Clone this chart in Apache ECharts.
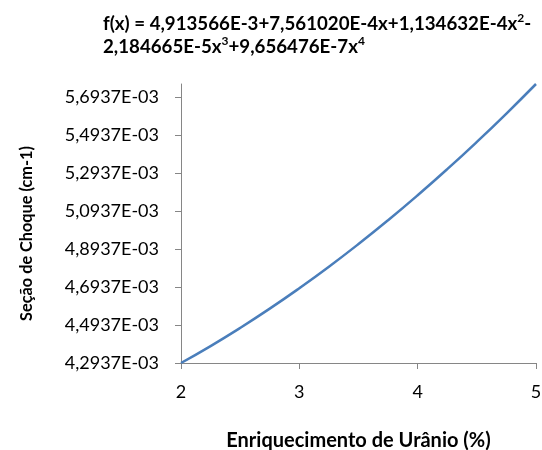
<!DOCTYPE html>
<html>
<head>
<meta charset="utf-8">
<script src="https://cdn.jsdelivr.net/npm/echarts@6/dist/echarts.min.js"></script>
<style>
  html, body { margin: 0; padding: 0; background: #fff; }
  #chart { width: 542px; height: 450px; }
</style>
</head>
<body>
<div id="chart"></div>
<script>
// Enrichment (%) and cross-section (cm-1) of the fitted curve
const enrichment = [2, 2.25, 2.5, 2.75, 3, 3.25, 3.5, 3.75, 4, 4.25, 4.5, 4.75, 5];
const crossSection = [
  0.0042937, 0.0043830, 0.0044785, 0.0045800, 0.0046877, 0.0048010, 0.0049205,
  0.0050460, 0.0051775, 0.0053150, 0.0054585, 0.0056080, 0.0057637
];
// Tick positions on the vertical axis
const yTicks = [0.0042937, 0.0044937, 0.0046937, 0.0048937, 0.0050937, 0.0052937, 0.0054937, 0.0056937];
const xTicks = [2, 3, 4, 5];

const FONT = 'Lato, "Open Sans", sans-serif';

function sciComma(v) {
  const s = Number(v).toExponential(4); // e.g. 5.6937e-3
  const parts = s.split('e');
  const mant = parts[0].replace('.', ',');
  let exp = parseInt(parts[1], 10);
  const sign = exp < 0 ? '-' : '+';
  exp = Math.abs(exp);
  return mant + 'E' + sign + (exp < 10 ? '0' + exp : String(exp));
}

const chart = echarts.init(document.getElementById('chart'), null, { renderer: 'canvas' });

chart.setOption({
  animation: false,
  backgroundColor: '#ffffff',
  title: {
    left: 98,
    top: 7,
    text: '{b|f(x) = 4,913566E-3+7,561020E-4x+1,134632E-4x}{s|2}{b|-}\n' +
          '{b|2,184665E-5x}{s|3}{b|+9,656476E-7x}{s|4}',
    textStyle: {
      rich: {
        b: { fontFamily: FONT, fontSize: 18.7, fontWeight: 'bold', color: '#000', lineHeight: 23 },
        s: { fontFamily: FONT, fontSize: 12, fontWeight: 'bold', color: '#000', lineHeight: 17, verticalAlign: 'top' }
      }
    }
  },
  grid: { left: 181, right: 6, top: 84, bottom: 87, containLabel: false, outerBoundsMode: 'none' },
  xAxis: {
    type: 'value',
    min: 2,
    max: 5,
    interval: 1,
    name: 'Enriquecimento de Urânio (%)',
    nameLocation: 'middle',
    nameGap: 68,
    nameTextStyle: { fontFamily: FONT, fontSize: 20, fontWeight: 'bold', color: '#000' },
    axisLine: { show: true, lineStyle: { color: '#868686', width: 1 } },
    axisTick: { show: true, length: 6, inside: false, lineStyle: { color: '#868686' }, customValues: xTicks },
    axisLabel: { fontFamily: FONT, fontSize: 18, color: '#000', margin: 20, customValues: xTicks },
    splitLine: { show: false }
  },
  yAxis: {
    type: 'value',
    min: yTicks[0],
    max: crossSection[crossSection.length - 1],
    name: 'Seção de Choque (cm-1)',
    nameLocation: 'middle',
    nameRotate: 90,
    nameGap: 146,
    nameTextStyle: { fontFamily: FONT, fontSize: 16.3, fontWeight: 'bold', color: '#000', padding: [0, 20, 0, 0] },
    axisLine: { show: true, lineStyle: { color: '#868686', width: 1 } },
    axisTick: { show: true, length: 6, inside: false, lineStyle: { color: '#868686' }, customValues: yTicks },
    axisLabel: {
      fontFamily: FONT, fontSize: 18, color: '#000', margin: 22,
      customValues: yTicks,
      formatter: sciComma
    },
    splitLine: { show: false }
  },
  series: [{
    type: 'line',
    data: enrichment.map((x, i) => [x, crossSection[i]]),
    smooth: true,
    showSymbol: false,
    symbol: 'none',
    lineStyle: { color: '#4A7EBB', width: 2.5 },
    clip: false
  }]
});
</script>
</body>
</html>
